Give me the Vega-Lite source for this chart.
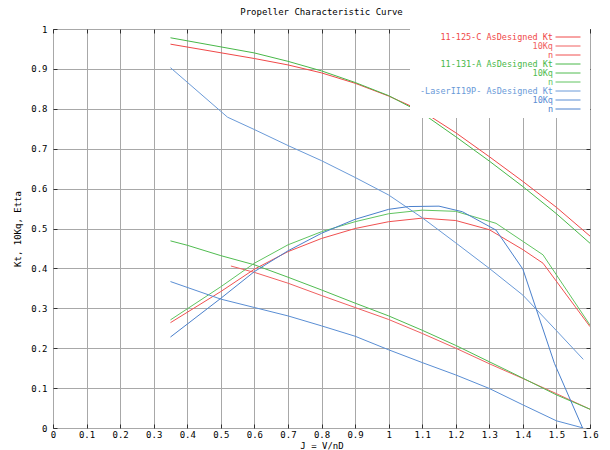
{
  "$schema": "https://vega.github.io/schema/vega-lite/v6.json",
  "width": 537,
  "height": 399,
  "autosize": {"type": "none"},
  "padding": {"left": 53, "top": 29, "right": 20, "bottom": 22},
  "background": "white",
  "title": {"text": "Propeller Characteristic Curve", "font": "DejaVu Sans Mono", "fontSize": 9, "fontWeight": "normal", "color": "#000000", "offset": 8},
  "config": {
    "view": {"stroke": "#303030", "strokeWidth": 1},
    "axis": {
      "labelFont": "DejaVu Sans Mono", "labelFontSize": 9, "labelColor": "#000000",
      "titleFont": "DejaVu Sans Mono", "titleFontSize": 9, "titleFontWeight": "normal", "titleColor": "#000000",
      "gridColor": "#a8a8a8", "gridOpacity": 1, "gridWidth": 1,
      "domain": false, "tickColor": "#303030", "tickSize": -4, "tickWidth": 1
    },
    "legend": {
      "orient": "top-right", "offset": 0, "fillColor": "white", "padding": 4,
      "symbolType": "M34.25,0H40.5", "symbolSize": 64, "symbolStrokeWidth": 1,
      "labelFont": "DejaVu Sans Mono", "labelFontSize": 8.5, "labelAlign": "right",
      "labelOffset": 130, "rowPadding": 0, "clipHeight": 8, "labelLimit": 300
    }
  },
  "data": {"values": [
    {"s": "11-125-C AsDesigned Kt", "J": 0.35, "v": 0.962},
    {"s": "11-125-C AsDesigned Kt", "J": 0.6, "v": 0.926},
    {"s": "11-125-C AsDesigned Kt", "J": 0.7, "v": 0.910},
    {"s": "11-125-C AsDesigned Kt", "J": 0.8, "v": 0.890},
    {"s": "11-125-C AsDesigned Kt", "J": 0.9, "v": 0.864},
    {"s": "11-125-C AsDesigned Kt", "J": 1.0, "v": 0.832},
    {"s": "11-125-C AsDesigned Kt", "J": 1.1, "v": 0.794},
    {"s": "11-125-C AsDesigned Kt", "J": 1.2, "v": 0.740},
    {"s": "11-125-C AsDesigned Kt", "J": 1.3, "v": 0.680},
    {"s": "11-125-C AsDesigned Kt", "J": 1.4, "v": 0.618},
    {"s": "11-125-C AsDesigned Kt", "J": 1.5, "v": 0.553},
    {"s": "11-125-C AsDesigned Kt", "J": 1.6, "v": 0.481},
    {"s": "11-125-C 10Kq", "J": 0.53, "v": 0.406},
    {"s": "11-125-C 10Kq", "J": 0.6, "v": 0.390},
    {"s": "11-125-C 10Kq", "J": 0.7, "v": 0.363},
    {"s": "11-125-C 10Kq", "J": 0.8, "v": 0.332},
    {"s": "11-125-C 10Kq", "J": 0.9, "v": 0.302},
    {"s": "11-125-C 10Kq", "J": 1.0, "v": 0.272},
    {"s": "11-125-C 10Kq", "J": 1.1, "v": 0.237},
    {"s": "11-125-C 10Kq", "J": 1.2, "v": 0.200},
    {"s": "11-125-C 10Kq", "J": 1.3, "v": 0.161},
    {"s": "11-125-C 10Kq", "J": 1.4, "v": 0.124},
    {"s": "11-125-C 10Kq", "J": 1.5, "v": 0.086},
    {"s": "11-125-C 10Kq", "J": 1.6, "v": 0.047},
    {"s": "11-125-C n", "J": 0.35, "v": 0.264},
    {"s": "11-125-C n", "J": 0.5, "v": 0.342},
    {"s": "11-125-C n", "J": 0.6, "v": 0.398},
    {"s": "11-125-C n", "J": 0.7, "v": 0.442},
    {"s": "11-125-C n", "J": 0.8, "v": 0.475},
    {"s": "11-125-C n", "J": 0.9, "v": 0.500},
    {"s": "11-125-C n", "J": 1.0, "v": 0.517},
    {"s": "11-125-C n", "J": 1.1, "v": 0.526},
    {"s": "11-125-C n", "J": 1.2, "v": 0.520},
    {"s": "11-125-C n", "J": 1.3, "v": 0.497},
    {"s": "11-125-C n", "J": 1.4, "v": 0.447},
    {"s": "11-125-C n", "J": 1.46, "v": 0.413},
    {"s": "11-125-C n", "J": 1.6, "v": 0.254},
    {"s": "11-131-A AsDesigned Kt", "J": 0.35, "v": 0.978},
    {"s": "11-131-A AsDesigned Kt", "J": 0.6, "v": 0.940},
    {"s": "11-131-A AsDesigned Kt", "J": 0.7, "v": 0.919},
    {"s": "11-131-A AsDesigned Kt", "J": 0.8, "v": 0.895},
    {"s": "11-131-A AsDesigned Kt", "J": 0.9, "v": 0.866},
    {"s": "11-131-A AsDesigned Kt", "J": 1.0, "v": 0.833},
    {"s": "11-131-A AsDesigned Kt", "J": 1.1, "v": 0.789},
    {"s": "11-131-A AsDesigned Kt", "J": 1.2, "v": 0.730},
    {"s": "11-131-A AsDesigned Kt", "J": 1.3, "v": 0.669},
    {"s": "11-131-A AsDesigned Kt", "J": 1.4, "v": 0.605},
    {"s": "11-131-A AsDesigned Kt", "J": 1.5, "v": 0.537},
    {"s": "11-131-A AsDesigned Kt", "J": 1.6, "v": 0.463},
    {"s": "11-131-A 10Kq", "J": 0.35, "v": 0.469},
    {"s": "11-131-A 10Kq", "J": 0.4, "v": 0.458},
    {"s": "11-131-A 10Kq", "J": 0.5, "v": 0.432},
    {"s": "11-131-A 10Kq", "J": 0.6, "v": 0.409},
    {"s": "11-131-A 10Kq", "J": 0.7, "v": 0.378},
    {"s": "11-131-A 10Kq", "J": 0.8, "v": 0.346},
    {"s": "11-131-A 10Kq", "J": 0.9, "v": 0.313},
    {"s": "11-131-A 10Kq", "J": 1.0, "v": 0.281},
    {"s": "11-131-A 10Kq", "J": 1.1, "v": 0.245},
    {"s": "11-131-A 10Kq", "J": 1.2, "v": 0.207},
    {"s": "11-131-A 10Kq", "J": 1.3, "v": 0.166},
    {"s": "11-131-A 10Kq", "J": 1.4, "v": 0.125},
    {"s": "11-131-A 10Kq", "J": 1.5, "v": 0.083},
    {"s": "11-131-A 10Kq", "J": 1.6, "v": 0.047},
    {"s": "11-131-A n", "J": 0.35, "v": 0.271},
    {"s": "11-131-A n", "J": 0.5, "v": 0.354},
    {"s": "11-131-A n", "J": 0.6, "v": 0.413},
    {"s": "11-131-A n", "J": 0.7, "v": 0.459},
    {"s": "11-131-A n", "J": 0.8, "v": 0.492},
    {"s": "11-131-A n", "J": 0.9, "v": 0.517},
    {"s": "11-131-A n", "J": 1.0, "v": 0.537},
    {"s": "11-131-A n", "J": 1.1, "v": 0.546},
    {"s": "11-131-A n", "J": 1.2, "v": 0.543},
    {"s": "11-131-A n", "J": 1.32, "v": 0.513},
    {"s": "11-131-A n", "J": 1.46, "v": 0.434},
    {"s": "11-131-A n", "J": 1.6, "v": 0.258},
    {"s": "-LaserII19P- AsDesigned Kt", "J": 0.35, "v": 0.903},
    {"s": "-LaserII19P- AsDesigned Kt", "J": 0.52, "v": 0.779},
    {"s": "-LaserII19P- AsDesigned Kt", "J": 0.6, "v": 0.748},
    {"s": "-LaserII19P- AsDesigned Kt", "J": 0.7, "v": 0.708},
    {"s": "-LaserII19P- AsDesigned Kt", "J": 0.8, "v": 0.670},
    {"s": "-LaserII19P- AsDesigned Kt", "J": 0.9, "v": 0.628},
    {"s": "-LaserII19P- AsDesigned Kt", "J": 1.0, "v": 0.584},
    {"s": "-LaserII19P- AsDesigned Kt", "J": 1.1, "v": 0.527},
    {"s": "-LaserII19P- AsDesigned Kt", "J": 1.2, "v": 0.464},
    {"s": "-LaserII19P- AsDesigned Kt", "J": 1.3, "v": 0.400},
    {"s": "-LaserII19P- AsDesigned Kt", "J": 1.4, "v": 0.333},
    {"s": "-LaserII19P- AsDesigned Kt", "J": 1.5, "v": 0.244},
    {"s": "-LaserII19P- AsDesigned Kt", "J": 1.58, "v": 0.172},
    {"s": "-LaserII19P- 10Kq", "J": 0.35, "v": 0.367},
    {"s": "-LaserII19P- 10Kq", "J": 0.5, "v": 0.323},
    {"s": "-LaserII19P- 10Kq", "J": 0.6, "v": 0.302},
    {"s": "-LaserII19P- 10Kq", "J": 0.7, "v": 0.281},
    {"s": "-LaserII19P- 10Kq", "J": 0.8, "v": 0.256},
    {"s": "-LaserII19P- 10Kq", "J": 0.9, "v": 0.230},
    {"s": "-LaserII19P- 10Kq", "J": 1.0, "v": 0.196},
    {"s": "-LaserII19P- 10Kq", "J": 1.1, "v": 0.164},
    {"s": "-LaserII19P- 10Kq", "J": 1.2, "v": 0.133},
    {"s": "-LaserII19P- 10Kq", "J": 1.3, "v": 0.099},
    {"s": "-LaserII19P- 10Kq", "J": 1.4, "v": 0.058},
    {"s": "-LaserII19P- 10Kq", "J": 1.5, "v": 0.018},
    {"s": "-LaserII19P- 10Kq", "J": 1.58, "v": 0.0},
    {"s": "-LaserII19P- n", "J": 0.35, "v": 0.228},
    {"s": "-LaserII19P- n", "J": 0.5, "v": 0.325},
    {"s": "-LaserII19P- n", "J": 0.6, "v": 0.392},
    {"s": "-LaserII19P- n", "J": 0.7, "v": 0.444},
    {"s": "-LaserII19P- n", "J": 0.8, "v": 0.488},
    {"s": "-LaserII19P- n", "J": 0.9, "v": 0.523},
    {"s": "-LaserII19P- n", "J": 1.0, "v": 0.548},
    {"s": "-LaserII19P- n", "J": 1.06, "v": 0.555},
    {"s": "-LaserII19P- n", "J": 1.15, "v": 0.556},
    {"s": "-LaserII19P- n", "J": 1.22, "v": 0.542},
    {"s": "-LaserII19P- n", "J": 1.32, "v": 0.496},
    {"s": "-LaserII19P- n", "J": 1.4, "v": 0.398},
    {"s": "-LaserII19P- n", "J": 1.494, "v": 0.162},
    {"s": "-LaserII19P- n", "J": 1.578, "v": 0.0}
  ]},
  "layer": [
    {
      "mark": {"type": "line", "strokeWidth": 1, "clip": true},
      "encoding": {
        "x": {"field": "J", "type": "quantitative", "scale": {"domain": [0, 1.6], "nice": false, "zero": false},
          "axis": {"orient": "bottom", "title": "J = V/nD", "values": [0,0.1,0.2,0.3,0.4,0.5,0.6,0.7,0.8,0.9,1,1.1,1.2,1.3,1.4,1.5,1.6], "format": "~g", "labelPadding": 6, "titlePadding": 2, "labelFlush": false}},
        "y": {"field": "v", "type": "quantitative", "scale": {"domain": [0, 1], "nice": false, "zero": false},
          "axis": {"orient": "left", "title": "Kt, 10Kq, Etta", "values": [0,0.1,0.2,0.3,0.4,0.5,0.6,0.7,0.8,0.9,1], "format": "~g", "labelPadding": 10, "titlePadding": 8, "labelFlush": false}},
        "color": {"field": "s", "type": "nominal",
          "scale": {
            "domain": ["11-125-C AsDesigned Kt", "11-125-C 10Kq", "11-125-C n", "11-131-A AsDesigned Kt", "11-131-A 10Kq", "11-131-A n", "-LaserII19P- AsDesigned Kt", "-LaserII19P- 10Kq", "-LaserII19P- n"],
            "range": ["#f04848", "#f06060", "#f05050", "#48b848", "#50bc50", "#60c460", "#6a9ad8", "#5a8ed4", "#4a80cc"]
          },
          "legend": {
            "title": null,
            "labelExpr": "indexof(datum.label, 'AsDesigned') >= 0 ? datum.label : split(datum.label, ' ')[1]",
            "encode": {
              "entries": {"update": {"width": {"value": 172}}},
              "labels": {"update": {"fill": {"signal": "scale('color', datum.value)"}}},
              "symbols": {"update": {"stroke": {"signal": "scale('color', datum.value)"}, "fill": {"value": "transparent"}}}
            }
          }
        }
      }
    },
    {
      "mark": {"type": "point", "opacity": 0},
      "encoding": {
        "x": {"field": "J", "type": "quantitative", "axis": {"orient": "top", "title": null, "labels": false, "grid": false, "values": [0,0.1,0.2,0.3,0.4,0.5,0.6,0.7,0.8,0.9,1,1.1,1.2,1.3,1.4,1.5,1.6]}},
        "y": {"field": "v", "type": "quantitative", "axis": {"orient": "right", "title": null, "labels": false, "grid": false, "values": [0,0.1,0.2,0.3,0.4,0.5,0.6,0.7,0.8,0.9,1]}}
      }
    }
  ],
  "resolve": {"axis": {"x": "independent", "y": "independent"}}
}
